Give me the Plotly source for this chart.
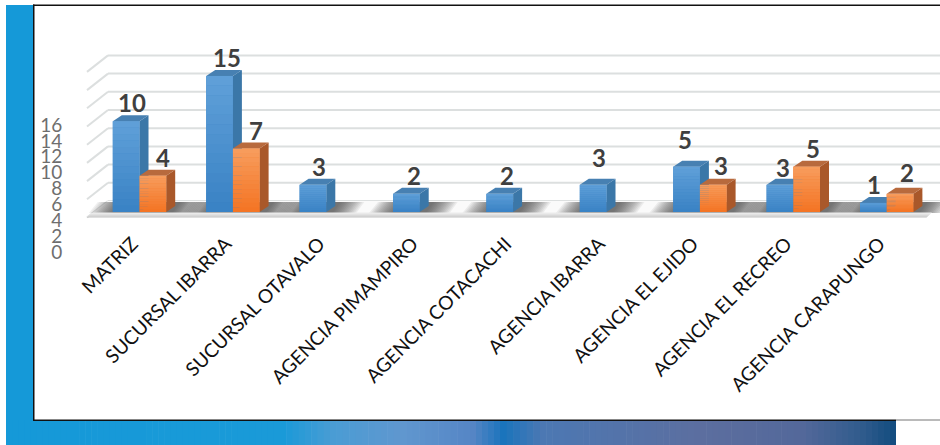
import plotly.graph_objects as go

W, H = 940, 445
categories = ["MATRIZ", "SUCURSAL IBARRA", "SUCURSAL OTAVALO", "AGENCIA PIMAMPIRO",
              "AGENCIA COTACACHI", "AGENCIA IBARRA", "AGENCIA EL EJIDO",
              "AGENCIA EL RECREO", "AGENCIA CARAPUNGO"]
series_a = [10, 15, 3, 2, 2, 3, 5, 3, 1]
series_b = [4, 7, None, None, None, None, 3, 5, 2]
axis_ticks = [0, 2, 4, 6, 8, 10, 12, 14, 16]

# ---- layout geometry (pixels) ----
PX_LEFT, PX_RIGHT = 66, 940
PX_TOP, PX_BOTTOM = 8, 228
BASE_PX = 212
UNIT_PX = 9.07
CAT_PX = 93.4
CAT0_PX = 139.5
BAR_PX = 26.7
DX, DY = 9, 6
LABEL_SHIFT = 7
# hand placement of the data labels, as in the reference (pixels)
NUDGE_A = [(6, 2), (7, 2), (6, 2), (8, 2), (7, 2), (6, 11), (-2, 11), (3, 1), (1, 2)]
NUDGE_B = [(10, 2), (10, 2), None, None, None, None, (8, 3), (6, 2), (7, 5)]


def fx(px):
    return (px - CAT0_PX) / CAT_PX


def fy(px):
    return (BASE_PX - px) / UNIT_PX


def dxv(px):
    return px / CAT_PX


def dyv(px):
    return px / UNIT_PX


def paper_rect(x0, y0, x1, y1, color, layer="below"):
    return dict(type="rect", xref="paper", yref="paper", x0=x0 / W, x1=x1 / W,
                y0=1 - y0 / H, y1=1 - y1 / H, fillcolor=color, line_width=0, layer=layer)


def hex_mix(c1, c2, t):
    a = [int(c1[i:i + 2], 16) for i in (1, 3, 5)]
    b = [int(c2[i:i + 2], 16) for i in (1, 3, 5)]
    return "#%02x%02x%02x" % tuple(round(p + (q - p) * t) for p, q in zip(a, b))


shapes = []

# Outer decoration: blue strips and black frame
stops = [(6, "#1599d8"), (280, "#1a9ad8"), (330, "#4a9cd4"), (400, "#6097cf"), (470, "#5585c5"),
         (500, "#1a74bc"), (540, "#4c78b3"), (700, "#5c6e9f"), (800, "#53689a"), (860, "#2f5b8c"),
         (896, "#0e4a7d")]
shapes.append(paper_rect(6, 5, 34, 445, "#1599d8"))
for (x0, c0), (x1, c1) in zip(stops, stops[1:]):
    n = max(1, (x1 - x0) // 6)
    for k in range(n):
        xa = x0 + (x1 - x0) * k / n
        xb = x0 + (x1 - x0) * (k + 1) / n + 0.6
        shapes.append(paper_rect(xa, 420, min(xb, 896), 445, hex_mix(c0, c1, k / n)))
shapes.append(paper_rect(33, 5, 940, 420, "#ffffff"))
shapes.append(paper_rect(33, 4.5, 940, 6, "#111111"))
shapes.append(paper_rect(33, 4.5, 34.5, 421, "#111111"))
shapes.append(paper_rect(33, 419.5, 896, 421, "#111111"))
shapes.append(paper_rect(896, 419.5, 940, 420.5, "#777777"))

# Floor
FX0, FX1, FBX0, FBX1 = 87, 927, 108, 945
FLOOR_FRONT, FLOOR_BACK = 217, 201


def poly(pts, color, layer="below"):
    path = "M " + " L ".join(f"{fx(x):.4f},{fy(y):.4f}" for x, y in pts) + " Z"
    return dict(type="path", xref="x", yref="y", path=path, fillcolor=color,
                line=dict(width=0), layer=layer)


# Walls grid lines, side + back
GRID_BACK_0 = 201
GRID_STEP = 18.2
for i in range(len(axis_ticks)):
    yb = GRID_BACK_0 - i * GRID_STEP
    yf = yb + 16.5
    col = "#dcdfdf"
    shapes.append(dict(type="line", xref="x", yref="y", x0=fx(FX0), y0=fy(yf), x1=fx(FBX0), y1=fy(yb),
                       line=dict(color=col, width=2), layer="below"))
    shapes.append(dict(type="line", xref="x", yref="y", x0=fx(FBX0), y0=fy(yb), x1=fx(FBX1), y1=fy(yb),
                       line=dict(color=col, width=2), layer="below"))

# Floor plane: near-white top, light grey front band
shapes.append(poly([(FX0, FLOOR_FRONT), (FBX0, FLOOR_BACK), (FBX1, FLOOR_BACK), (FX1, FLOOR_FRONT)], "#fafafa"))

# Soft shadows on the floor under each group (many faint layers fake a blur)
for i, (a, b) in enumerate(zip(series_a, series_b)):
    cx = CAT0_PX + i * CAT_PX
    xl = cx - BAR_PX
    xr = cx + (BAR_PX if b is not None else 0) + DX
    for step in range(14):
        grow = 24 - step * 1.8
        top = 202
        bot = 213
        shapes.append(poly([(xl - grow, bot), (xl - grow + 9, top), (xr + grow + 5, top), (xr + grow - 3, bot)],
                           "rgba(50,50,50,0.075)"))

for k in range(5):
    t0 = 212.5 + k
    shapes.append(poly([(FX0 + (217 - t0) * 1.3 - 1, t0 + 1), (FX0 + (217 - t0) * 1.3, t0),
                        (FX1 + (217 - t0) * 1.1, t0), (FX1 + (217 - t0) * 1.1 - 1, t0 + 1)],
                       hex_mix("#ececec", "#bfbfbf", k / 4)))

# Gradient on front faces and 3D sides, all derived from the data values
xs = list(range(len(categories)))
faces = {
    "a": ("#5f9fd8", "#3a83c5", "#3b77a8", "#4780b2"),
    "b": ("#f79c5c", "#f47525", "#a9582a", "#b86a3d"),
}
for key, vals, off in (("a", series_a, -0.5), ("b", series_b, 0.5)):
    top_c, bot_c, side_c, cap_c = faces[key]
    for i, v in enumerate(vals):
        if v is None:
            continue
        c_x = i + off * BAR_PX / CAT_PX
        hw = 0.5 * BAR_PX / CAT_PX
        x0v, x1v = c_x - hw, c_x + hw
        p = [(x1v, 0), (x1v + dxv(DX), dyv(DY)), (x1v + dxv(DX), v + dyv(DY)), (x1v, v)]
        shapes.append(dict(type="path", xref="x", yref="y", fillcolor=side_c, line_width=0, layer="above",
                           path="M " + " L ".join(f"{a:.4f},{b:.4f}" for a, b in p) + " Z"))
        p = [(x0v, v), (x0v + dxv(DX), v + dyv(DY)), (x1v + dxv(DX), v + dyv(DY)), (x1v, v)]
        shapes.append(dict(type="path", xref="x", yref="y", fillcolor=cap_c, line_width=0, layer="above",
                           path="M " + " L ".join(f"{a:.4f},{b:.4f}" for a, b in p) + " Z"))

for key, vals, off in (("a", series_a, -0.5), ("b", series_b, 0.5)):
    top_c, bot_c, side_c, cap_c = faces[key]
    for i, v in enumerate(vals):
        if v is None:
            continue
        c_x = i + off * BAR_PX / CAT_PX
        hw = 0.5 * BAR_PX / CAT_PX
        n = 14
        for k in range(n):
            shapes.append(dict(type="rect", xref="x", yref="y", x0=c_x - hw, x1=c_x + hw,
                               y0=v * k / n, y1=v * (k + 1) / n + (0.02 if k < n - 1 else 0),
                               fillcolor=hex_mix(bot_c, top_c, k / (n - 1)), line_width=0, layer="above"))

# Data labels
annotations = []
for vals, off, nudges in ((series_a, -0.5, NUDGE_A), (series_b, 0.5, NUDGE_B)):
    for i, v in enumerate(vals):
        if v is None:
            continue
        nx, ny = nudges[i]
        annotations.append(dict(x=i + off * BAR_PX / CAT_PX, y=v, xref="x", yref="y", text=f"<b>{v}</b>",
                                showarrow=False, xanchor="center", yanchor="bottom", xshift=nx, yshift=ny,
                                font=dict(family="Lato", size=24, color="#3f3f3f")))

fig = go.Figure()
fig.add_bar(x=xs, y=series_a, name="A", marker=dict(color="#3a83c5", line_width=0), hoverinfo="skip")
fig.add_bar(x=xs, y=series_b, name="B", marker=dict(color="#f47525", line_width=0), hoverinfo="skip")
# Labelling axes (slightly offset from the drawing axes, as in the reference)
fig.add_scatter(x=[0, 0], y=[axis_ticks[0], axis_ticks[-1]], xaxis="x2", yaxis="y2", mode="markers",
                marker=dict(opacity=0, size=1), hoverinfo="skip")

# y2: 0 at 252 px, 16 at 125 px
Y2_UNIT = (252 - 125) / 16
Y2_TOP, Y2_BOT = 110, 262

fig.update_layout(
    width=W, height=H, showlegend=False, autosize=False,
    margin=dict(l=0, r=0, t=0, b=0, pad=0),
    paper_bgcolor="white", plot_bgcolor="rgba(0,0,0,0)",
    barmode="group", bargap=1 - 2 * BAR_PX / CAT_PX, bargroupgap=0,
    xaxis=dict(domain=[PX_LEFT / W, PX_RIGHT / W], range=[fx(PX_LEFT), fx(PX_RIGHT)], type="linear",
               anchor="y", showticklabels=False, showgrid=False, zeroline=False, showline=False, ticks=""),
    xaxis2=dict(domain=[(PX_LEFT - LABEL_SHIFT) / W, (PX_RIGHT - LABEL_SHIFT) / W],
                range=[fx(PX_LEFT), fx(PX_RIGHT)], type="linear", anchor="y3",
                tickmode="array", tickvals=xs, ticktext=categories, tickangle=-45,
                showgrid=False, zeroline=False, showline=False, ticks="",
                tickfont=dict(family="Lato", size=19.2, color="#111111")),
    yaxis=dict(domain=[1 - PX_BOTTOM / H, 1 - PX_TOP / H], range=[fy(PX_BOTTOM), fy(PX_TOP)],
               showgrid=False, zeroline=False, showline=False, showticklabels=False, ticks=""),
    yaxis2=dict(domain=[1 - Y2_BOT / H, 1 - Y2_TOP / H], anchor="free", position=68 / W,
                range=[(252 - Y2_BOT) / Y2_UNIT, (252 - Y2_TOP) / Y2_UNIT],
                tickmode="array", tickvals=axis_ticks, showgrid=False, zeroline=False, showline=False,
                ticks="outside", ticklen=2, tickcolor="rgba(0,0,0,0)",
                tickfont=dict(family="Lato", size=19, color="#6e6e6e")),
    yaxis3=dict(domain=[1 - PX_BOTTOM / H, 1 - PX_TOP / H], range=[0, 1], anchor="x2", overlaying="y",
                visible=False),
    shapes=shapes, annotations=annotations,
)

fig.write_html("out.html", config=dict(displayModeBar=False),
               post_script="document.body.style.margin='0';document.body.style.overflow='hidden';")
